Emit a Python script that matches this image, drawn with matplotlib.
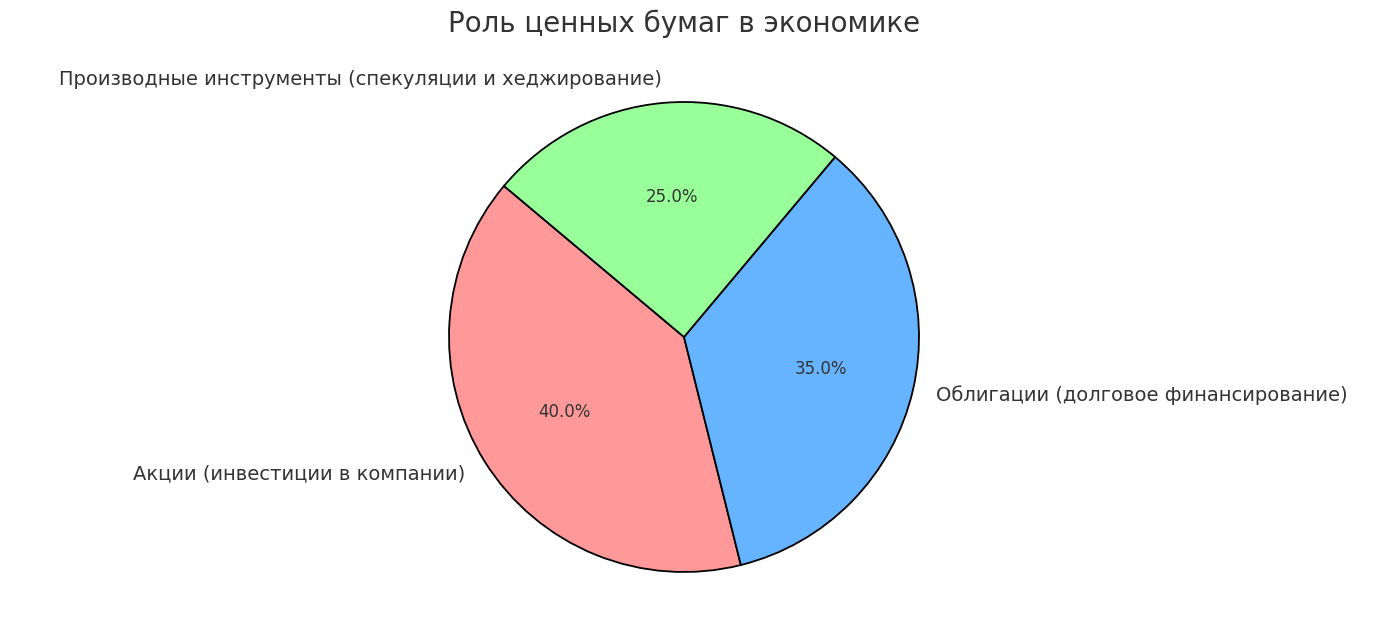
import matplotlib
matplotlib.use("Agg")
import matplotlib.pyplot as plt

labels = ["Акции (инвестиции в компании)", "Облигации (долговое финансирование)",
          "Производные инструменты (спекуляции и хеджирование)"]
values = [40, 35, 25]
colors = ["#ff9999", "#66b3ff", "#99ff99"]

fig = plt.figure(figsize=(13.9, 6.4), dpi=100)
R = 235
L = 1.25
w = 2 * R * L
ax = fig.add_axes([(684 - w / 2) / 1390, (303 - w / 2) / 640, w / 1390, w / 640])
wedges, texts, autotexts = ax.pie(values, labels=labels, colors=colors, autopct="%1.1f%%",
                                  startangle=140, wedgeprops=dict(edgecolor="black", linewidth=1.3),
                                  textprops=dict(color="#333333", fontsize=14))
for t in autotexts:
    t.set_fontsize(12)
ax.set_xlim(-L, L)
ax.set_ylim(-L, L)
ax.set_aspect("equal")
fig.text(684 / 1390, 1 - 24 / 640, "Роль ценных бумаг в экономике", ha="center", va="center",
         fontsize=20, color="#333333")
fig.savefig("out.png", dpi=100)
